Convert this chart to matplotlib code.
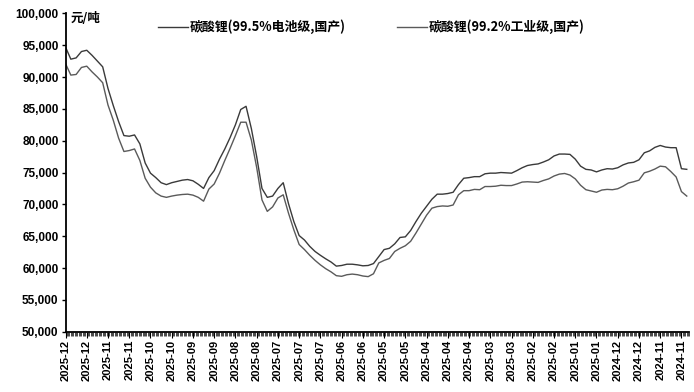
import matplotlib
matplotlib.use("Agg")
import matplotlib.pyplot as plt
from matplotlib.ticker import MultipleLocator, FuncFormatter, FixedLocator

# ---- data (x axis runs from newest on the left to oldest on the right) ----
tick_labels = ["2025-12", "2025-12", "2025-11", "2025-11", "2025-10", "2025-10",
               "2025-09", "2025-09", "2025-08", "2025-08", "2025-07", "2025-07",
               "2025-07", "2025-06", "2025-06", "2025-05", "2025-05", "2025-04",
               "2025-04", "2025-04", "2025-03", "2025-03", "2025-02", "2025-02",
               "2025-01", "2025-01", "2024-12", "2024-12", "2024-11", "2024-11"]

battery_grade = [94.7, 92.8, 93.0, 94.0, 94.2, 93.4, 92.5, 91.6, 88.2, 85.5,
                 83.0, 80.8, 80.7, 80.9, 79.5, 76.5, 74.9, 74.2, 73.4, 73.1,
                 73.4, 73.6, 73.8, 73.9, 73.7, 73.15, 72.5, 74.2, 75.3, 77.1,
                 78.7, 80.5, 82.5, 84.9, 85.4, 81.9, 77.5, 72.5, 71.1, 71.3,
                 72.5, 73.4, 70.1, 67.3, 65.1, 64.4, 63.4, 62.6, 62.0, 61.45,
                 60.95, 60.3, 60.4, 60.6, 60.6, 60.5, 60.35, 60.4, 60.7, 61.8,
                 62.9, 63.1, 63.8, 64.8, 64.9, 65.9, 67.3, 68.6, 69.7, 70.8,
                 71.6, 71.6, 71.7, 71.9, 73.1, 74.1, 74.2, 74.35, 74.35, 74.8,
                 74.9, 74.9, 75.0, 74.95, 74.9, 75.3, 75.75, 76.1, 76.25, 76.35,
                 76.65, 77.0, 77.6, 77.9, 77.9, 77.85, 77.1, 76.0, 75.5, 75.4,
                 75.1, 75.4, 75.6, 75.55, 75.75, 76.2, 76.5, 76.6, 77.0, 78.1,
                 78.4, 78.95, 79.25, 79.0, 78.9, 78.9, 75.6, 75.5]

industrial_grade = [92.1, 90.3, 90.4, 91.5, 91.7, 90.8, 90.0, 89.1, 85.6, 83.2,
                    80.4, 78.3, 78.45, 78.7, 76.9, 74.1, 72.7, 71.8, 71.3, 71.1,
                    71.3, 71.45, 71.55, 71.6, 71.45, 71.1, 70.5, 72.4, 73.2, 74.9,
                    76.9, 78.8, 80.8, 82.9, 82.9, 80.1, 75.8, 70.7, 68.9, 69.6,
                    71.0, 71.5, 68.6, 66.0, 63.7, 62.9, 62.0, 61.2, 60.5, 59.9,
                    59.4, 58.8, 58.7, 58.95, 59.05, 58.95, 58.75, 58.65, 59.1, 60.8,
                    61.2, 61.5, 62.6, 63.1, 63.5, 64.2, 65.5, 66.9, 68.3, 69.4,
                    69.65, 69.75, 69.7, 69.9, 71.5, 72.15, 72.15, 72.35, 72.3, 72.8,
                    72.8, 72.85, 73.0, 72.95, 72.95, 73.2, 73.5, 73.55, 73.5, 73.45,
                    73.75, 74.0, 74.45, 74.75, 74.85, 74.6, 74.0, 73.0, 72.3, 72.1,
                    71.9, 72.25, 72.35, 72.3, 72.45, 72.85, 73.35, 73.55, 73.8, 74.95,
                    75.2, 75.55, 76.0, 75.9, 75.15, 74.3, 72.0, 71.3]

series_names = ["碳酸锂(99.5%电池级,国产)", "碳酸锂(99.2%工业级,国产)"]
unit_label = "元/吨"
points_per_label = 4

# ---- figure ----
plt.rcParams['font.family'] = ['Liberation Sans', 'Noto Sans CJK SC', 'DejaVu Sans']
fig = plt.figure(figsize=(6.94, 3.92), dpi=100)
ax = fig.add_axes([0.0944, 0.1538, 0.899, 0.8122])

x = list(range(len(battery_grade)))
ax.plot(x, [v * 1000 for v in battery_grade], color="#3a3a3a", lw=1.0,
        label=series_names[0])
ax.plot(x, [v * 1000 for v in industrial_grade], color="#5a5a5a", lw=1.0,
        label=series_names[1])

ax.set_ylim(50000, 100000)
ax.set_xlim(0, 117.5)
ax.yaxis.set_major_locator(MultipleLocator(5000))
ax.yaxis.set_major_formatter(FuncFormatter(lambda v, p: f"{int(v):,}"))

tick_pos = [i * points_per_label for i in range(len(tick_labels))]
ax.xaxis.set_major_locator(FixedLocator(tick_pos))
ax.set_xticklabels(tick_labels, rotation=90, fontsize=8, fontweight="bold")
ax.xaxis.set_minor_locator(MultipleLocator(0.25))

for s in ["top", "right"]:
    ax.spines[s].set_visible(False)
for s in ["left", "bottom"]:
    ax.spines[s].set_linewidth(1.3)
    ax.spines[s].set_color("black")

ax.tick_params(axis="y", direction="out", length=3, width=1, labelsize=8.5, pad=2)
for lbl in ax.get_yticklabels():
    lbl.set_fontweight("bold")
ax.tick_params(axis="x", which="major", direction="out", length=4, width=0.8, pad=2)
ax.tick_params(axis="x", which="minor", direction="out", length=3, width=0.5)

ax.text(0.008, 1.005, unit_label, transform=ax.transAxes, fontsize=9,
        family=['Noto Sans CJK SC'], fontweight="bold", style="italic",
        va="top", ha="left")

leg = ax.legend(loc="center", bbox_to_anchor=(0.49, 0.957), ncol=2, frameon=False,
                handlelength=2.3, handletextpad=0.15, columnspacing=4.0,
                prop={"family": ["Noto Sans CJK SC"], "size": 9.3, "weight": "bold"})

fig.savefig("out.png", dpi=100)
